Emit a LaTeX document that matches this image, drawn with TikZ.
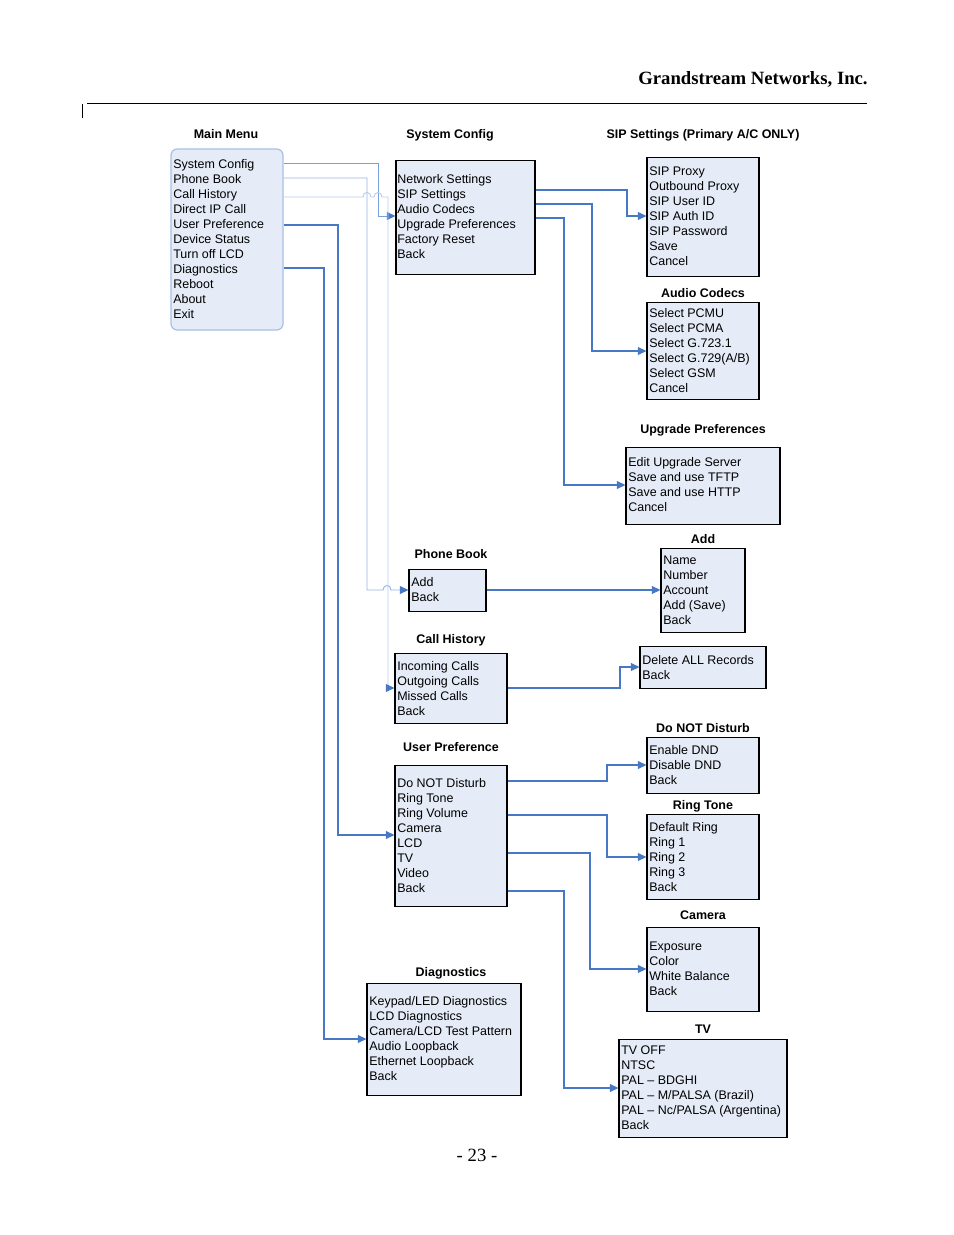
\documentclass[tikz,border=0pt]{standalone}
\usepackage{fontspec}
\setmainfont{Liberation Serif}
\newfontfamily\arialf[Ligatures=TeX]{Liberation Sans}
\usetikzlibrary{arrows.meta,fit}
\definecolor{boxfill}{RGB}{230,236,247}
\definecolor{mmborder}{RGB}{168,192,228}
\definecolor{conndark}{RGB}{70,120,195}
\definecolor{connmid}{RGB}{120,160,218}
\definecolor{connlight}{RGB}{150,182,228}
\definecolor{connpale}{RGB}{184,204,236}
\tikzset{
  box/.style={draw=black, line width=0.65pt, fill=boxfill, inner sep=0pt},
  mmbox/.style={draw=mmborder, line width=0.8pt, fill=boxfill, inner sep=0pt, rounded corners=4pt},
  item/.style={font=\arialf\fontsize{8}{9.6}\selectfont, anchor=west, inner sep=0pt, text height=6.5pt, text depth=1.5pt},
  ttl/.style={font=\arialf\bfseries\fontsize{8}{9.6}\selectfont, inner sep=0pt, text height=6.5pt, text depth=1.5pt},
  conn/.style={draw=conndark, line width=0.7pt, -{Triangle[length=5.5pt,width=5pt,color=conndark]}},
  connM/.style={conn, draw=connmid, line width=0.6pt},
  connL/.style={conn, draw=connlight, line width=0.6pt},
  connP/.style={conn, draw=connpale, line width=0.6pt},
}
\newcommand\menuitems[4]{%
  \foreach \t [count=\i] in {#4} {
    \node[item] (#1-\i) at (#2, {#3+1.5+15*(\i-1)}) {\t};
  }%
}
\begin{document}
\begin{tikzpicture}[x=0.6415pt, y=-0.6415pt]
\useasboundingbox (0,0) rectangle (954,1235);
\fill[white] (0,0) rectangle (954,1235);

% header
\node[font=\bfseries\fontsize{12}{14}\selectfont, anchor=base east, inner sep=0pt] (hdr) at (868,84) {Grandstream Networks, Inc.};
\draw[line width=0.6pt] (87,103) -- (867,103);
\draw[line width=0.6pt] (82,104) -- (82,118);
\node[font=\fontsize{12}{14}\selectfont, anchor=base, inner sep=0pt] (pgno) at (477,1161) {- 23 -};

% titles
\node[ttl] (tMM) at (226,134.5) {Main Menu};
\node[ttl] (tSC) at (450,134.5) {System Config};
\node[ttl] (tSIP) at (703,134.5) {SIP Settings (Primary A/C ONLY)};
\node[ttl] (tAC) at (703,293.5) {Audio Codecs};
\node[ttl] (tUP) at (703,429.5) {Upgrade Preferences};
\node[ttl] (tADD) at (703,539.5) {Add};
\node[ttl] (tPB) at (451,554.5) {Phone Book};
\node[ttl] (tCH) at (451,639.5) {Call History};
\node[ttl] (tDND) at (703,728.5) {Do NOT Disturb};
\node[ttl] (tUPR) at (451,747.5) {User Preference};
\node[ttl] (tRT) at (703,805.5) {Ring Tone};
\node[ttl] (tCAM) at (703,915.5) {Camera};
\node[ttl] (tDIAG) at (451,972.5) {Diagnostics};
\node[ttl] (tTV) at (703,1029.5) {TV};

% boxes
\node[mmbox, fit={(171,149)(283,330)}] (mm) {};
\node[box, fit={(396,160)(535,274)}] (sc) {};
\node[box, fit={(647,157)(759,276)}] (sip) {};
\node[box, fit={(647,302)(759,399)}] (ac) {};
\node[box, fit={(626,447)(780,524)}] (up) {};
\node[box, fit={(661,548)(745,632)}] (add) {};
\node[box, fit={(640,646)(766,688)}] (del) {};
\node[box, fit={(409,569)(486,611)}] (pb) {};
\node[box, fit={(395,653)(507,723)}] (ch) {};
\node[box, fit={(395,765)(507,906)}] (upr) {};
\node[box, fit={(647,737)(759,793)}] (dnd) {};
\node[box, fit={(647,814)(759,899)}] (rt) {};
\node[box, fit={(647,927)(759,1011)}] (cam) {};
\node[box, fit={(619,1039)(787,1137)}] (tv) {};
\node[box, fit={(367,983)(521,1095)}] (diag) {};

% items
\menuitems{mmi}{173}{163}{System Config,Phone Book,Call History,Direct IP Call,User Preference,Device Status,Turn off LCD,Diagnostics,Reboot,About,Exit}
\menuitems{sci}{397}{178}{Network Settings,SIP Settings,Audio Codecs,Upgrade Preferences,Factory Reset,Back}
\menuitems{sipi}{649}{170}{SIP Proxy,Outbound Proxy,SIP User ID,SIP Auth ID,SIP Password,Save,Cancel}
\menuitems{aci}{649}{312}{Select PCMU,Select PCMA,Select G.723.1,{Select G.729(A/B)},Select GSM,Cancel}
\menuitems{upi}{628}{461}{Edit Upgrade Server,Save and use TFTP,Save and use HTTP,Cancel}
\menuitems{addi}{663}{559}{Name,Number,Account,{Add (Save)},Back}
\menuitems{deli}{642}{659}{Delete ALL Records,Back}
\menuitems{pbi}{411}{581}{Add,Back}
\menuitems{chi}{397}{665}{Incoming Calls,Outgoing Calls,Missed Calls,Back}
\menuitems{upri}{397}{782}{Do NOT Disturb,Ring Tone,Ring Volume,Camera,LCD,TV,Video,Back}
\menuitems{dndi}{649}{749}{Enable DND,Disable DND,Back}
\menuitems{rti}{649}{826}{Default Ring,Ring 1,Ring 2,Ring 3,Back}
\menuitems{cami}{649}{945}{Exposure,Color,White Balance,Back}
\menuitems{tvi}{621}{1049}{TV OFF,NTSC,PAL – BDGHI,{PAL – M/PALSA (Brazil)},{PAL – Nc/PALSA (Argentina)},Back}
\menuitems{diagi}{369}{1000}{Keypad/LED Diagnostics,LCD Diagnostics,Camera/LCD Test Pattern,Audio Loopback,Ethernet Loopback,Back}

% connectors from main menu
\draw[connM] (mm.east |- 0,163) -- (378,163) -- (378,216) -- (sc.west |- 0,216);
\draw[connL] (mm.east |- 0,178) -- (367,178) -- (367,590) -- (383,590)
   .. controls (383,584) and (391,584) .. (391,590) -- (pb.west |- 0,590);
\draw[connP] (mm.east |- 0,197) -- (363,197)
   .. controls (363,191) and (371,191) .. (371,197) -- (374,197)
   .. controls (374,191) and (382,191) .. (382,197) -- (388,197) -- (388,688) -- (ch.west |- 0,688);
\draw[conn] (mm.east |- 0,225) -- (338,225) -- (338,835) -- (upr.west |- 0,835);
\draw[conn] (mm.east |- 0,268) -- (324,268) -- (324,1039) -- (diag.west |- 0,1039);

% system config
\draw[conn] (sc.east |- 0,190) -- (627,190) -- (627,216) -- (sip.west |- 0,216);
\draw[conn] (sc.east |- 0,204) -- (592,204) -- (592,351) -- (ac.west |- 0,351);
\draw[conn] (sc.east |- 0,218) -- (564,218) -- (564,485) -- (up.west |- 0,485);

% phone book, call history
\draw[conn] (pb.east |- 0,590) -- (add.west |- 0,590);
\draw[conn] (ch.east |- 0,688) -- (620,688) -- (620,667) -- (del.west |- 0,667);

% user preference
\draw[conn] (upr.east |- 0,781) -- (607,781) -- (607,765) -- (dnd.west |- 0,765);
\draw[conn] (upr.east |- 0,815) -- (607,815) -- (607,857) -- (rt.west |- 0,857);
\draw[conn] (upr.east |- 0,853) -- (590,853) -- (590,969) -- (cam.west |- 0,969);
\draw[conn] (upr.east |- 0,891) -- (564,891) -- (564,1088) -- (tv.west |- 0,1088);
\end{tikzpicture}
\end{document}
